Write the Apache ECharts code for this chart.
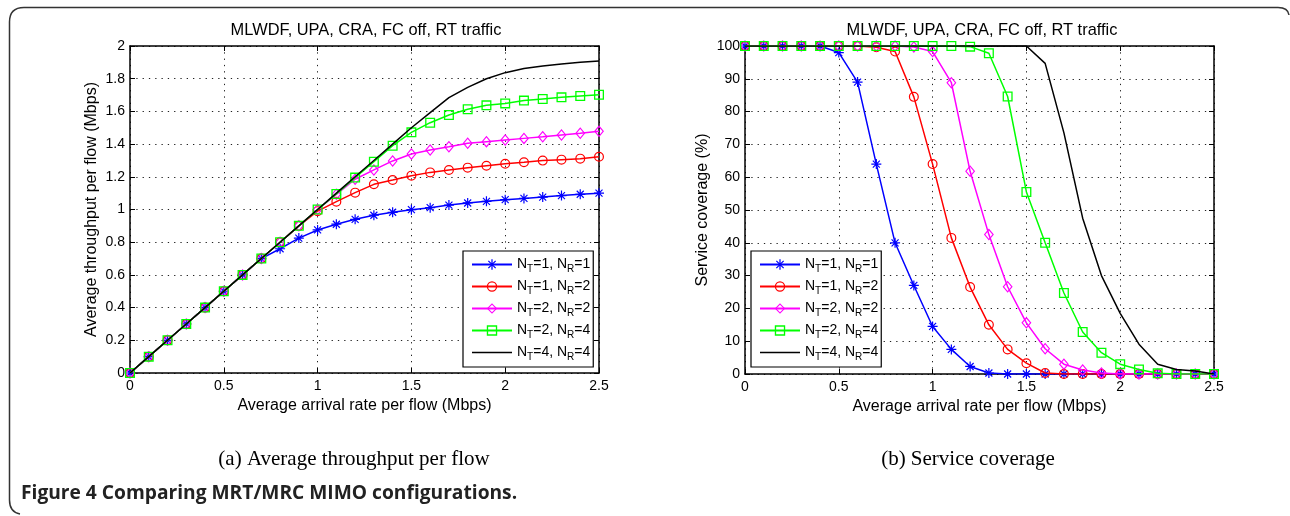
<!DOCTYPE html>
<html>
<head>
<meta charset="utf-8">
<script src="https://cdn.jsdelivr.net/npm/echarts@6/dist/echarts.min.js"></script>
<style>
html,body{margin:0;padding:0;background:#fff;}
#main{width:1290px;height:516px;}
</style>
</head>
<body>
<div id="main"></div>
<script>
// ---- data ----
const chartTitle = 'MLWDF, UPA, CRA, FC off, RT traffic';
const xLabel = 'Average arrival rate per flow (Mbps)';
const yLabelLeft = 'Average throughput per flow (Mbps)';
const yLabelRight = 'Service coverage (%)';
const captionA = '(a) Average throughput per flow';
const captionB = '(b) Service coverage';
const figureCaption = 'Figure 4 Comparing MRT/MRC MIMO configurations.';
const seriesNames = ['NT=1, NR=1', 'NT=1, NR=2', 'NT=2, NR=2', 'NT=2, NR=4', 'NT=4, NR=4'];

const xs = [0,0.1,0.2,0.3,0.4,0.5,0.6,0.7,0.8,0.9,1.0,1.1,1.2,1.3,1.4,1.5,1.6,1.7,1.8,1.9,2.0,2.1,2.2,2.3,2.4,2.5];

// throughput (Mbps)
const tp11 = [0,0.1,0.2,0.3,0.4,0.5,0.6,0.7,0.76,0.825,0.875,0.91,0.94,0.965,0.983,0.999,1.011,1.027,1.04,1.05,1.06,1.068,1.076,1.085,1.093,1.10];
const tp12 = [0,0.1,0.2,0.3,0.4,0.5,0.6,0.7,0.8,0.9,0.99,1.048,1.103,1.154,1.18,1.207,1.227,1.242,1.256,1.268,1.28,1.289,1.299,1.305,1.311,1.323];
const tp22 = [0,0.1,0.2,0.3,0.4,0.5,0.6,0.7,0.8,0.9,1.0,1.093,1.185,1.242,1.297,1.339,1.364,1.384,1.405,1.415,1.425,1.435,1.445,1.456,1.466,1.478];
const tp24 = [0,0.1,0.2,0.3,0.4,0.5,0.6,0.7,0.8,0.9,1.0,1.095,1.195,1.292,1.39,1.472,1.531,1.578,1.613,1.637,1.649,1.666,1.676,1.686,1.694,1.702];
const tp44 = [0,0.1,0.2,0.3,0.4,0.5,0.6,0.7,0.8,0.9,1.0,1.1,1.2,1.3,1.4,1.50,1.592,1.684,1.747,1.80,1.837,1.863,1.878,1.89,1.90,1.908];

// service coverage (%)
const sc11 = [100,100,100,100,100,98,89,64,40,27,14.5,7.5,2.3,0.3,0,0,0,0,0,0,0,0,0,0,0,0];
const sc12 = [100,100,100,100,100,100,100,99.6,98.3,84.5,64,41.5,26.5,15,7.5,3.3,0.3,0,0,0,0,0,0,0,0,0];
const sc22 = [100,100,100,100,100,100,100,100,100,99.7,98.3,88.8,61.8,42.5,26.6,15.6,7.7,3.0,1.2,0.3,0,0,0,0,0,0];
const sc24 = [100,100,100,100,100,100,100,100,100,100,100,100,99.8,97.8,84.6,55.5,40,24.7,12.8,6.5,3.0,1.4,0.2,0,0,0];
const sc44 = [100,100,100,100,100,100,100,100,100,100,100,100,100,100,100,100,94.7,73.5,47.5,30,18.5,9.1,3.0,1.4,0.9,0];

const xTicks = {min: 0, max: 2.5, interval: 0.5};
const yTicksLeft = {min: 0, max: 2, interval: 0.2};
const yTicksRight = {min: 0, max: 100, interval: 10};

// ---- styles ----
const colors = ['#0000ff', '#ff0000', '#ff00ff', '#00ff00', '#000000'];
const SANS = '"Liberation Sans", Arial, Helvetica, sans-serif';
const SERIF = '"Liberation Serif", "Times New Roman", serif';
const symAsterisk = 'path://M4.4,0 H5.6 V10 H4.4 Z M0,4.4 H10 V5.6 H0 Z M1.08,1.92 L1.92,1.08 L8.92,8.08 L8.08,8.92 Z M8.08,1.08 L8.92,1.92 L1.92,8.92 L1.08,8.08 Z';
const symCircle = 'path://M5,0 A5,5 0 1 1 5,10 A5,5 0 1 1 5,0 Z M5,1.2 A3.8,3.8 0 1 0 5,8.8 A3.8,3.8 0 1 0 5,1.2 Z';
const symDiamond = 'path://M5,0 L10,6 L5,12 L0,6 Z M5,1.8 L1.45,6 L5,10.2 L8.55,6 Z';
const symSquare = 'path://M0,0 L10,0 L10,10 L0,10 Z M1.3,1.3 L1.3,8.7 L8.7,8.7 L8.7,1.3 Z';
const symbols = [symAsterisk, symCircle, symDiamond, symSquare, 'none'];
const symSizes = [10, 10, [10, 12], 10, 0];
const plainLineIcon = 'path://M0,0 L0.001,0 L0,0.001 Z M0,5.3 L40,5.3 L40,6.7 L0,6.7 Z M40,12 L39.999,12 L40,11.999 Z';

const gridDef = [
  {left: 130, top: 46, width: 469, height: 327},
  {left: 745, top: 46, width: 469, height: 328}
];

function mkX(gi, primary) {
  return Object.assign({
    type: 'value', gridIndex: gi, position: primary ? 'bottom' : 'top',
    axisLine: {show: true, onZero: false, lineStyle: {color: '#000', width: 1.5}},
    axisTick: {show: true, inside: true, length: 5, lineStyle: {color: '#000', width: 1}},
    axisLabel: {show: primary, color: '#000', fontFamily: SANS, fontSize: 14, margin: 6},
    splitLine: {show: primary, lineStyle: {color: '#222', width: 1, type: [1.3, 5]}},
    name: primary ? xLabel : '', nameLocation: 'middle', nameGap: 24,
    nameTextStyle: {color: '#000', fontFamily: SANS, fontSize: 16}
  }, xTicks);
}
function mkY(gi, primary, ticks, name, gap) {
  return Object.assign({
    type: 'value', gridIndex: gi, position: primary ? 'left' : 'right',
    axisLine: {show: true, onZero: false, lineStyle: {color: '#000', width: 1.5}},
    axisTick: {show: true, inside: true, length: 5, lineStyle: {color: '#000', width: 1}},
    axisLabel: {show: primary, color: '#000', fontFamily: SANS, fontSize: 14, margin: 5},
    splitLine: {show: primary, lineStyle: {color: '#222', width: 1, type: [1.3, 5]}},
    name: primary ? name : '', nameLocation: 'middle', nameGap: gap,
    nameTextStyle: {color: '#000', fontFamily: SANS, fontSize: 16}
  }, ticks);
}

const leftVals = [tp11, tp12, tp22, tp24, tp44];
const rightVals = [sc11, sc12, sc22, sc24, sc44];
const series = [];
[leftVals, rightVals].forEach(function (vals, gi) {
  vals.forEach(function (arr, i) {
    series.push({
      type: 'line', name: seriesNames[i], xAxisIndex: gi, yAxisIndex: gi,
      data: xs.map(function (x, k) { return [x, arr[k]]; }),
      symbol: symbols[i], symbolSize: symSizes[i], showSymbol: i < 4,
      lineStyle: {color: colors[i], width: 1.5},
      itemStyle: {color: colors[i]},
      emphasis: {disabled: true},
      animation: false, z: 2 + i
    });
  });
});

function legendFmt(name) {
  const m = name.match(/NT=(\d+), NR=(\d+)/);
  return '{n|N}{s|T}{n|=' + m[1] + ', N}{s|R}{n|=' + m[2] + '}';
}
function mkLegend(left) {
  return {
    left: left, top: 251, orient: 'vertical',
    data: seriesNames.map(function (n, i) { return i === 4 ? {name: n, icon: plainLineIcon} : n; }),
    itemWidth: 40, itemHeight: 13, itemGap: 5.5,
    padding: [6.5, 3, 5, 8],
    backgroundColor: '#fff', borderColor: '#000', borderWidth: 1.2,
    selectedMode: false,
    formatter: legendFmt,
    textStyle: {
      color: '#000', fontFamily: SANS, fontSize: 14,
      rich: {
        n: {fontSize: 14, fontFamily: SANS, color: '#000'},
        s: {fontSize: 10, fontFamily: SANS, color: '#000', padding: [9, 0, 0, 0]}
      }
    }
  };
}

const frameStyle = {stroke: '#333', lineWidth: 1.5, fill: null};
const option = {
  backgroundColor: '#fff',
  animation: false,
  grid: gridDef.map(function (g) { return Object.assign({show: false}, g); }),
  xAxis: [mkX(0, true), mkX(1, true), mkX(0, false), mkX(1, false)],
  yAxis: [
    mkY(0, true, yTicksLeft, yLabelLeft, 30),
    mkY(1, true, yTicksRight, yLabelRight, 34),
    mkY(0, false, yTicksLeft, '', 0),
    mkY(1, false, yTicksRight, '', 0)
  ],
  legend: [mkLegend(463), mkLegend(751)],
  series: series,
  graphic: [
    {type: 'line', shape: {x1: 24, y1: 7.5, x2: 1278, y2: 7.5}, style: frameStyle, silent: true},
    {type: 'line', shape: {x1: 9.5, y1: 22, x2: 9.5, y2: 500}, style: frameStyle, silent: true},
    {type: 'bezierCurve', shape: {x1: 9.5, y1: 22, x2: 24, y2: 7.5, cpx1: 9.5, cpy1: 7.5}, style: frameStyle, silent: true},
    {type: 'bezierCurve', shape: {x1: 1278, y1: 7.5, x2: 1289, y2: 15, cpx1: 1288, cpy1: 7.5}, style: frameStyle, silent: true},
    {type: 'bezierCurve', shape: {x1: 9.5, y1: 500, x2: 20, y2: 514, cpx1: 9.5, cpy1: 512}, style: frameStyle, silent: true},
    {type: 'text', x: 366, y: 30, style: {text: chartTitle, font: '16.4px ' + SANS, fill: '#000', textAlign: 'center', textVerticalAlign: 'middle'}},
    {type: 'text', x: 982, y: 30, style: {text: chartTitle, font: '16.4px ' + SANS, fill: '#000', textAlign: 'center', textVerticalAlign: 'middle'}},
    {type: 'text', x: 354, y: 459, style: {text: captionA, font: '21px ' + SERIF, fill: '#000', textAlign: 'center', textVerticalAlign: 'middle'}},
    {type: 'text', x: 968, y: 459, style: {text: captionB, font: '21px ' + SERIF, fill: '#000', textAlign: 'center', textVerticalAlign: 'middle'}},
    {type: 'text', x: 21, y: 494, style: {text: figureCaption, font: 'bold 19.2px "Open Sans", "Noto Sans", sans-serif', fill: '#222', textAlign: 'left', textVerticalAlign: 'middle'}}
  ]
};

const chart = echarts.init(document.getElementById('main'), null, {renderer: 'canvas'});
chart.setOption(option);
</script>
</body>
</html>
